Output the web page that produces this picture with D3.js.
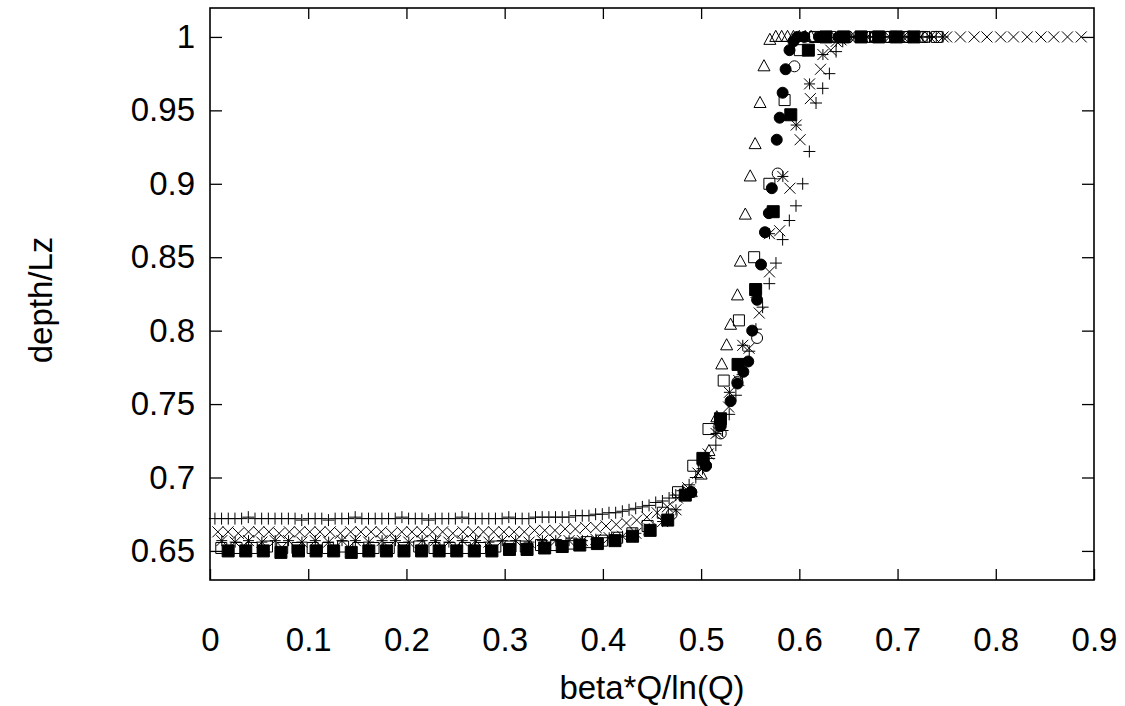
<!DOCTYPE html>
<html>
<head>
<meta charset="utf-8">
<script src="https://cdn.jsdelivr.net/npm/d3@7"></script>
<style>
  body { margin: 0; background: #fff; }
  svg { display: block; }
  text { font-family: "Liberation Sans", Arial, sans-serif; fill: #000; }
</style>
</head>
<body>
<svg id="chart" width="1125" height="706"></svg>
<script>
// axis ticks
var xTicks = [0, 0.1, 0.2, 0.3, 0.4, 0.5, 0.6, 0.7, 0.8, 0.9];
var yTicks = [0.65, 0.7, 0.75, 0.8, 0.85, 0.9, 0.95, 1];

// + series (evenly spaced in x)
var plusStart = 0.005, plusStep = 0.0068;
var plusY = [0.672,0.672,0.672,0.672,0.672,0.673,0.672,0.672,0.672,0.672,
  0.672,0.672,0.672,0.671,0.672,0.672,0.672,0.671,0.672,0.672,
  0.672,0.673,0.672,0.672,0.672,0.672,0.672,0.672,0.673,0.672,
  0.672,0.672,0.671,0.672,0.672,0.672,0.672,0.673,0.672,0.672,
  0.672,0.672,0.672,0.672,0.673,0.672,0.672,0.672,0.673,0.673,
  0.673,0.673,0.673,0.673,0.674,0.674,0.674,0.675,0.675,0.676,
  0.676,0.677,0.678,0.679,0.680,0.681,0.683,0.684,0.686,0.688,
  0.691,0.695,0.700,0.706,0.713,0.722,0.732,0.743,0.756,0.770,
  0.786,0.801,0.816,0.832,0.846,0.862,0.875,0.885,0.900,0.922,
  0.955,0.965,0.975,0.990,0.997,1,1,1,1,1,1,1,1,1,1,1,1,1,1];

// x series: dense run up to the plateau, then the sparser run along 1
var crossStart = 0.008, crossStep = 0.0104;
var crossY = [0.663,0.663,0.662,0.663,0.663,0.663,0.662,0.663,0.663,0.663,
  0.663,0.663,0.662,0.663,0.663,0.663,0.663,0.662,0.663,0.663,
  0.663,0.663,0.663,0.662,0.663,0.663,0.663,0.663,0.663,
  0.663,0.663,0.664,0.664,0.664,0.665,0.665,0.666,0.666,0.667,
  0.668,0.669,0.671,0.673,0.676,0.680,0.686,0.693,0.703,0.716,
  0.731,0.748,0.766,0.788,0.812,0.840,0.868,0.897,0.930,0.958,
  0.978,0.991,0.998];
var crossTopX = [0.655,0.669,0.682,0.696,0.710,0.723,0.737,0.750,0.764,
  0.778,0.791,0.805,0.818,0.832,0.846,0.859,0.873,0.887];
var crossTopY = [1,1,1,1,1,1,1,1,1,1,1,1,1,1,1,1,1,1];

// * series
var starStart = 0.012, starStep = 0.0136;
var starY = [0.657,0.656,0.657,0.656,0.657,0.657,0.656,0.657,0.656,0.657,
  0.657,0.656,0.657,0.657,0.656,0.657,0.657,0.656,0.657,0.657,
  0.656,0.657,0.657,0.656,0.657,0.657,
  0.657,0.657,0.658,0.659,0.660,0.662,0.665,0.670,0.678,0.690,
  0.708,0.730,0.758,0.790,0.826,0.866,0.905,0.940,0.968,0.988,0.997,
  1,1,1,1,1,1,1,1];

// open square series
var boxStart = 0.0115, boxStep = 0.0155;
var boxY = [0.652,0.652,0.652,0.653,0.652,0.652,0.652,0.652,0.653,0.652,
  0.652,0.652,0.652,0.653,0.652,0.652,0.652,0.652,0.653,0.653,
  0.653,0.654,0.654,0.655,0.656,0.657,0.659,0.662,0.667,0.676,
  0.690,0.708,0.733,0.766,0.807,0.850,0.900,0.957,0.991,1,
  1,1,1,1,1,1,1,1];

// filled square series
var fboxStart = 0.0185, fboxStep = 0.0179;
var fboxY = [0.650,0.650,0.650,0.649,0.650,0.650,0.650,0.649,0.650,0.650,
  0.650,0.650,0.650,0.650,0.650,0.650,0.651,0.651,0.652,0.653,
  0.654,0.655,0.657,0.660,0.664,0.671,0.688,0.713,0.740,0.777,
  0.828,0.881,0.947,0.991,1,1,1,1,1,1];

// open circle series
var circX = [0.47,0.49,0.505,0.52,0.537,0.557,0.578,0.595,0.613,0.63,0.65,0.67,0.69,0.71,0.73];
var circY = [0.675,0.690,0.708,0.730,0.765,0.795,0.907,0.980,1,1,1,1,1,1,1];

// filled circle series
var dotX = [0.49,0.505,0.52,0.53,0.537,0.543,0.548,0.552,0.557,0.561,0.565,0.569,0.572,0.577,0.580,0.583,0.586,0.590,0.594,0.598,0.605,0.62,0.64];
var dotY = [0.690,0.708,0.735,0.752,0.764,0.772,0.779,0.800,0.821,0.845,0.867,0.880,0.897,0.930,0.945,0.962,0.978,0.991,0.997,1,1,1,1];

// open triangle series
var triX = [0.49,0.50,0.508,0.516,0.521,0.526,0.530,0.537,0.540,0.545,0.550,0.555,0.560,0.564,0.570,0.576,0.582,0.588,0.594,0.60,0.606,0.612];
var triY = [0.690,0.702,0.718,0.741,0.777,0.790,0.804,0.824,0.847,0.879,0.905,0.927,0.955,0.980,0.998,1,1,1,1,1,1,1];

var margin = {left: 210, right: 1094, top: 8, bottom: 580};
var fontSize = 33;
var svg = d3.select("#chart");

var x = d3.scaleLinear().domain([0, 0.9]).range([margin.left, margin.right]);
var y = d3.scaleLinear().domain([0.6302, 1.0197]).range([margin.bottom, margin.top]);

var evenly = function (start, step, ys) {
    return ys.map(function (v, i) { return {x: start + step * i, y: v}; });
};
var paired = function (xs, ys) {
    return xs.map(function (v, i) { return {x: v, y: ys[i]}; });
};

// marker shapes, gnuplot style
var plusShape = { draw: function (c, s) { var r = Math.sqrt(s) / 2;
    c.moveTo(-r, 0); c.lineTo(r, 0); c.moveTo(0, -r); c.lineTo(0, r); } };
var crossShape = { draw: function (c, s) { var r = Math.sqrt(s) / 2;
    c.moveTo(-r, -r); c.lineTo(r, r); c.moveTo(-r, r); c.lineTo(r, -r); } };
var starShape = { draw: function (c, s) { var r = Math.sqrt(s) / 2;
    c.moveTo(-r, 0); c.lineTo(r, 0); c.moveTo(0, -r); c.lineTo(0, r);
    c.moveTo(-r, -r); c.lineTo(r, r); c.moveTo(-r, r); c.lineTo(r, -r); } };
var boxShape = { draw: function (c, s) { var r = Math.sqrt(s) / 2;
    c.rect(-r, -r, 2 * r, 2 * r); } };
var circShape = { draw: function (c, s) { var r = Math.sqrt(s) / 2;
    c.moveTo(r, 0); c.arc(0, 0, r, 0, 2 * Math.PI); c.closePath(); } };
var triShape = { draw: function (c, s) { var r = Math.sqrt(s) / 2;
    c.moveTo(0, -r * 1.1); c.lineTo(r, r * 0.75); c.lineTo(-r, r * 0.75); c.closePath(); } };

var series = [
    {data: evenly(plusStart, plusStep, plusY), shape: plusShape, size: 144, fill: "none"},
    {data: evenly(crossStart, crossStep, crossY).concat(paired(crossTopX, crossTopY)), shape: crossShape, size: 121, fill: "none"},
    {data: evenly(starStart, starStep, starY), shape: starShape, size: 121, fill: "none"},
    {data: evenly(boxStart, boxStep, boxY), shape: boxShape, size: 121, fill: "none"},
    {data: evenly(fboxStart, fboxStep, fboxY), shape: boxShape, size: 144, fill: "#000"},
    {data: paired(circX, circY), shape: circShape, size: 121, fill: "none"},
    {data: paired(dotX, dotY), shape: circShape, size: 121, fill: "#000"},
    {data: paired(triX, triY), shape: triShape, size: 144, fill: "none"}
];

series.forEach(function (s) {
    svg.append("g")
        .selectAll("path")
        .data(s.data)
        .enter()
        .append("path")
        .attr("transform", function (d) { return "translate(" + x(d.x) + "," + y(d.y) + ")"; })
        .attr("d", d3.symbol().type(s.shape).size(s.size))
        .attr("fill", s.fill)
        .attr("stroke", "#000")
        .attr("stroke-width", 1);
});

// frame with mirrored inward ticks
svg.append("rect")
    .attr("x", margin.left).attr("y", margin.top)
    .attr("width", margin.right - margin.left)
    .attr("height", margin.bottom - margin.top)
    .attr("fill", "none").attr("stroke", "#000").attr("stroke-width", 1.6);

var axes = svg.append("g");
axes.append("g").attr("transform", "translate(0," + margin.bottom + ")")
    .call(d3.axisBottom(x).tickValues(xTicks).tickSizeInner(-11).tickSizeOuter(0).tickPadding(48)
        .tickFormat(function (d) { return d === 0 ? "0" : d3.format(".1f")(d); }));
axes.append("g").attr("transform", "translate(0," + margin.top + ")")
    .call(d3.axisTop(x).tickValues(xTicks.slice(1, -1)).tickSizeInner(-11).tickSizeOuter(0).tickFormat(""));
axes.append("g").attr("transform", "translate(" + margin.left + ",0)")
    .call(d3.axisLeft(y).tickValues(yTicks).tickSizeInner(-12).tickSizeOuter(0).tickPadding(15)
        .tickFormat(function (d) { return d === 1 ? "1" : String(d); }));
axes.append("g").attr("transform", "translate(" + margin.right + ",0)")
    .call(d3.axisRight(y).tickValues(yTicks).tickSizeInner(-12).tickSizeOuter(0).tickFormat(""));

axes.selectAll(".domain").remove();
axes.selectAll(".tick line").attr("stroke", "#000").attr("stroke-width", 1.3);
axes.selectAll(".tick text")
    .attr("font-family", "'Liberation Sans', Arial, sans-serif")
    .attr("font-size", fontSize);

svg.append("text")
    .attr("x", 652).attr("y", 699)
    .attr("text-anchor", "middle")
    .attr("font-size", fontSize)
    .text("beta*Q/ln(Q)");

svg.append("text")
    .attr("transform", "translate(52,300) rotate(-90)")
    .attr("text-anchor", "middle")
    .attr("font-size", fontSize)
    .text("depth/Lz");
</script>
</body>
</html>
